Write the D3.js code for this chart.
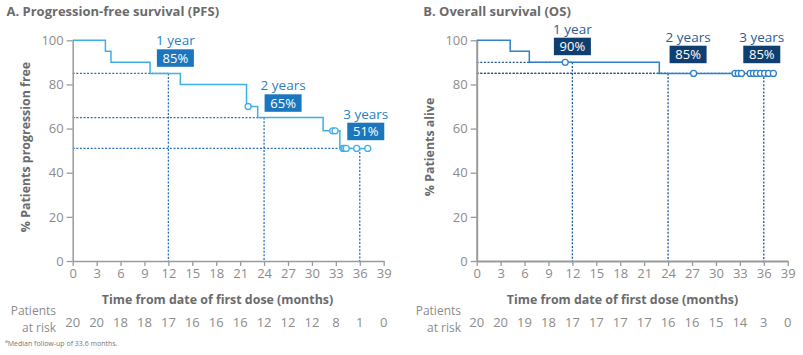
<!DOCTYPE html>
<html><head><meta charset="utf-8">
<script src="https://cdn.jsdelivr.net/npm/d3@7"></script>
<style>
html,body{margin:0;padding:0;background:#fff;}
svg{display:block;font-family:"Open Sans",sans-serif;}
</style></head>
<body>
<svg id="chart" width="803" height="355"></svg>
<script>
// ---------- DATA ----------
const monthTicks = [0,3,6,9,12,15,18,21,24,27,30,33,36,39];
const pctTicks = [0,20,40,60,80,100];

// PFS (panel A)
const pfsStepTimes = [0, 4.1, 4.8, 9.7, 13.5, 21.8, 23.2, 31.4, 33.5, 37.0];
const pfsStepValues = [100, 95, 90, 85, 80, 70, 65, 59, 51, 51];
const pfsCensorTimes = [22.0, 32.6, 32.9, 33.9, 34.1, 34.3, 35.6, 37.0];
const pfsCensorValues = [70, 59, 59, 51, 51, 51, 51, 51];
const pfsAtRisk = [20,20,18,18,17,16,16,16,12,12,12,8,1,0];
const pfsLandmarkYears = ["1 year","2 years","3 years"];
const pfsLandmarkMonths = [12, 24, 36];
const pfsLandmarkValues = [85, 65, 51];

// OS (panel B)
const osStepTimes = [0, 4.2, 6.6, 22.9, 37.2];
const osStepValues = [100, 95, 90, 85, 85];
const osCensorTimes = [11.1, 27.2, 32.4, 32.8, 33.2, 34.3, 34.7, 35.1, 35.6, 36.1, 36.6, 37.2];
const osCensorValues = [90, 85, 85, 85, 85, 85, 85, 85, 85, 85, 85, 85];
const osAtRisk = [20,20,19,18,17,17,17,17,16,16,15,14,3,0];
const osLandmarkYears = ["1 year","2 years","3 years"];
const osLandmarkMonths = [12, 24, 36];
const osLandmarkValues = [90, 85, 85];

// ---------- DRAW ----------
const svg = d3.select("#chart");
const grey = "#8c8c8c";
const titleGrey = "#6a6b6d";

function panel(cfg){
  const g = svg.append("g");
  const x = d3.scaleLinear().domain([0,39]).range([cfg.x0, cfg.x0 + 311]);
  const y = d3.scaleLinear().domain([0,100]).range([261, 40.3]);

  // title
  g.append("text").attr("x", cfg.titleX).attr("y", 15.5)
    .attr("font-size", 13).attr("font-weight", 700).attr("fill", titleGrey)
    .text(cfg.title);

  // reference dotted lines
  const dots = g.append("g").attr("stroke", cfg.dotColor).attr("stroke-width", 1.3)
    .attr("stroke-dasharray", "2,1.6").attr("fill", "none");
  cfg.lmMonths.forEach((m,i)=>{
    const v = cfg.lmValues[i];
    dots.append("line").attr("x1", x(0)).attr("x2", x(m)).attr("y1", y(v)).attr("y2", y(v));
    dots.append("line").attr("x1", x(m)).attr("x2", x(m)).attr("y1", y(v)).attr("y2", y(0));
  });

  // axes
  const xAxis = d3.axisBottom(x).tickValues(monthTicks).tickSize(5).tickPadding(3).tickSizeOuter(0);
  const yAxis = d3.axisLeft(y).tickValues(pctTicks).tickSize(6).tickPadding(3).tickSizeOuter(0);
  const gx = g.append("g").attr("transform", `translate(0,${y(0)})`).call(xAxis);
  const gy = g.append("g").attr("transform", `translate(${x(0)},0)`).call(yAxis);
  [gx, gy].forEach(a=>{
    a.select(".domain").attr("stroke", "#9a9a9a").attr("stroke-width", cfg.axisW);
    a.selectAll(".tick line").attr("stroke", "#9a9a9a").attr("stroke-width", 1.3);
    a.selectAll(".tick text").attr("fill", grey).attr("font-size", 13).attr("font-family", "Open Sans");
  });

  // survival step curve
  const pts = cfg.times.map((t,i)=>[t, cfg.values[i]]);
  const line = d3.line().x(d=>x(d[0])).y(d=>y(d[1])).curve(d3.curveStepAfter);
  g.append("path").datum(pts).attr("d", line).attr("fill","none")
    .attr("stroke", cfg.curveColor).attr("stroke-width", 1.5);

  // censor marks
  g.append("g").selectAll("circle").data(cfg.cTimes.map((t,i)=>[t, cfg.cValues[i]]))
    .join("circle").attr("cx", d=>x(d[0])).attr("cy", d=>y(d[1])).attr("r", 3)
    .attr("fill", "#fff").attr("stroke", cfg.curveColor).attr("stroke-width", 1.3);

  // landmark labels
  cfg.lmMonths.forEach((m,i)=>{
    const cx = x(m) + cfg.lmDx[i];
    const top = cfg.lmBoxTop[i];
    g.append("rect").attr("x", cx - 18.5).attr("y", top).attr("width", 37).attr("height", 17.5)
      .attr("fill", cfg.boxColor);
    g.append("text").attr("x", cx).attr("y", top + 13.5).attr("text-anchor","middle")
      .attr("fill","#fff").attr("font-size", 13).text(cfg.lmValues[i] + "%");
    g.append("text").attr("x", cx).attr("y", top - 4).attr("text-anchor","middle")
      .attr("fill", cfg.yearColor).attr("font-size", 13.5).text(cfg.lmYears[i]);
  });

  // axis titles
  g.append("text").attr("x", cfg.xTitleX).attr("y", 303.5).attr("text-anchor","middle")
    .attr("font-size", 12.4).attr("font-weight", 700).attr("fill", titleGrey)
    .text("Time from date of first dose (months)");
  g.append("text").attr("transform", `translate(${cfg.yTitleX},${cfg.yTitleY}) rotate(-90)`)
    .attr("text-anchor","middle").attr("font-size", 12.4).attr("font-weight", 700).attr("fill", titleGrey)
    .text(cfg.yTitle);

  // patients at risk
  g.append("text").attr("x", cfg.riskLabelX).attr("y", 315).attr("text-anchor","end")
    .attr("font-size", 12).attr("fill", grey).text("Patients");
  g.append("text").attr("x", cfg.riskLabelX).attr("y", 331.5).attr("text-anchor","end")
    .attr("font-size", 12).attr("fill", grey).text("at risk");
  g.append("g").selectAll("text").data(cfg.atRisk).join("text")
    .attr("x", (d,i)=>x(monthTicks[i])).attr("y", 326.5).attr("text-anchor","middle")
    .attr("font-size", 13).attr("fill", grey).text(d=>d);
}

panel({
  x0: 72.7, titleX: 6.5, title: "A. Progression-free survival (PFS)",
  times: pfsStepTimes, values: pfsStepValues, cTimes: pfsCensorTimes, cValues: pfsCensorValues,
  atRisk: pfsAtRisk, lmYears: pfsLandmarkYears, lmMonths: pfsLandmarkMonths, lmValues: pfsLandmarkValues,
  lmDx: [7, 19, 6], lmBoxTop: [49.3, 94.3, 122.7],
  curveColor: "#3fb0e6", boxColor: "#1c76bd", yearColor: "#2a7fc3", dotColor: "#2a72b8",
  axisW: 1.5, xTitleX: 217.5, yTitleX: 30, yTitleY: 147, yTitle: "% Patients progression free",
  riskLabelX: 56
});
panel({
  x0: 476.7, titleX: 423.3, title: "B. Overall survival (OS)",
  times: osStepTimes, values: osStepValues, cTimes: osCensorTimes, cValues: osCensorValues,
  atRisk: osAtRisk, lmYears: osLandmarkYears, lmMonths: osLandmarkMonths, lmValues: osLandmarkValues,
  lmDx: [0, 20, -2], lmBoxTop: [37.7, 45.7, 45.7],
  curveColor: "#2f80c9", boxColor: "#0f3f70", yearColor: "#2c5d91", dotColor: "#1d5795",
  axisW: 2, xTitleX: 622.5, yTitleX: 434, yTitleY: 147, yTitle: "% Patients alive",
  riskLabelX: 461
});

// footnote
svg.append("text").attr("x", 5).attr("y", 346).attr("font-size", 7).attr("fill", "#777")
  .html('<tspan baseline-shift="super" font-size="5">a</tspan>Median follow-up of 33.6 months.');
</script>
</body></html>
